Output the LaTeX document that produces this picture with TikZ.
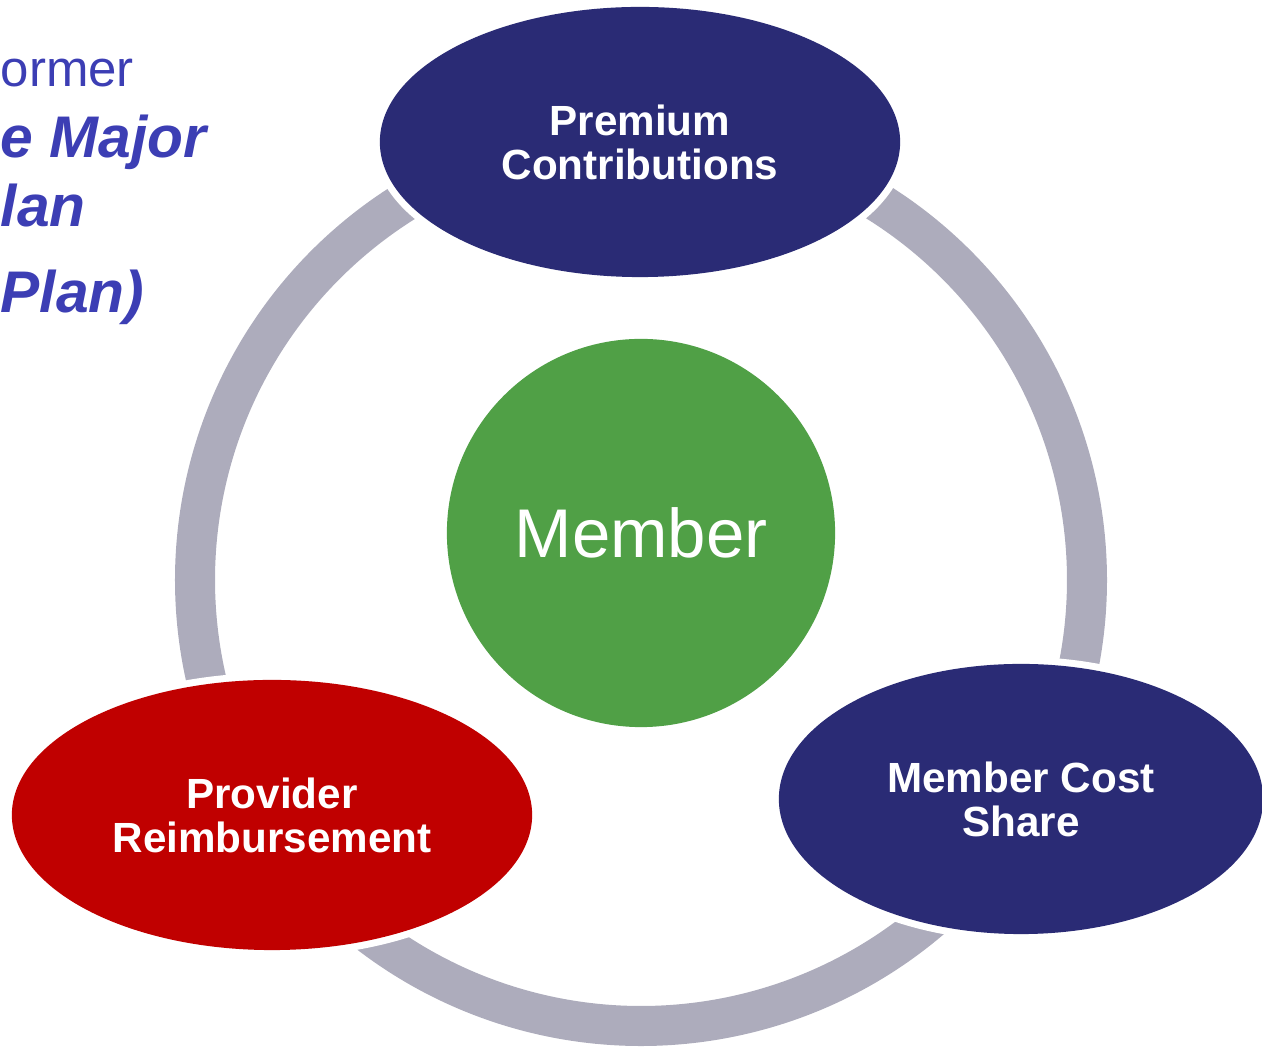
\documentclass[tikz,border=0pt]{standalone}
\usepackage{fontspec}
\setmainfont{Liberation Sans}
\usepackage{xcolor}
\usetikzlibrary{shapes.geometric}
\definecolor{navy}{HTML}{2A2B75}
\definecolor{plumred}{HTML}{C00000}
\definecolor{leafgreen}{HTML}{50A046}
\definecolor{ringgrey}{HTML}{ADACBC}
\definecolor{slideblue}{HTML}{3C3EB4}

\begin{document}
\begin{tikzpicture}[x=0.01cm,y=0.01cm,
  bubble/.style={ellipse,inner sep=0pt,minimum width=5.2cm,minimum height=2.7cm,
    preaction={draw=white,line width=0.14cm},text=white,align=center,
    font=\fontsize{12}{12.5}\selectfont\bfseries},
  ringarc/.style={draw=ringgrey,line width=0.4cm},
  slidetext/.style={anchor=base west,inner sep=0pt,text=slideblue}]
\useasboundingbox (0,0) rectangle (1262,1048);
\clip (0,0) rectangle (1262,1048);

% text of the slide behind
\node[slidetext,font=\fontsize{14.5}{14.5}\selectfont] (former) at (0,961) {ormer};
\node[slidetext,font=\fontsize{16.7}{16.7}\selectfont\bfseries\itshape] (major) at (0,890) {e Major};
\node[slidetext,font=\fontsize{16.7}{16.7}\selectfont\bfseries\itshape] (lan) at (0,821) {lan};
\node[slidetext,font=\fontsize{16.7}{16.7}\selectfont\bfseries\itshape] (plan) at (0,735) {Plan)};

% ring arcs
\coordinate (hub) at (641,468);
\draw[ringarc] (hub) ++(105:446) arc[start angle=105,end angle=205,radius=446];
\draw[ringarc] (hub) ++(220:446) arc[start angle=220,end angle=320,radius=446];
\draw[ringarc] (hub) ++(340:446) arc[start angle=340,end angle=440,radius=446];

% the four nodes
\node[bubble,fill=navy] (premium) at (640,906) {Premium\\Contributions};
\node[bubble,fill=plumred] (provider) at (272,233) {Provider\\Reimbursement};
\node[bubble,fill=navy,minimum width=4.84cm] (costshare) at (1021,249) {Member Cost\\Share};
\node[circle,fill=leafgreen,inner sep=0pt,minimum size=3.88cm,text=white,
  font=\fontsize{19.6}{19.6}\selectfont] (member) at (641,515) {Member};

\end{tikzpicture}
\end{document}
